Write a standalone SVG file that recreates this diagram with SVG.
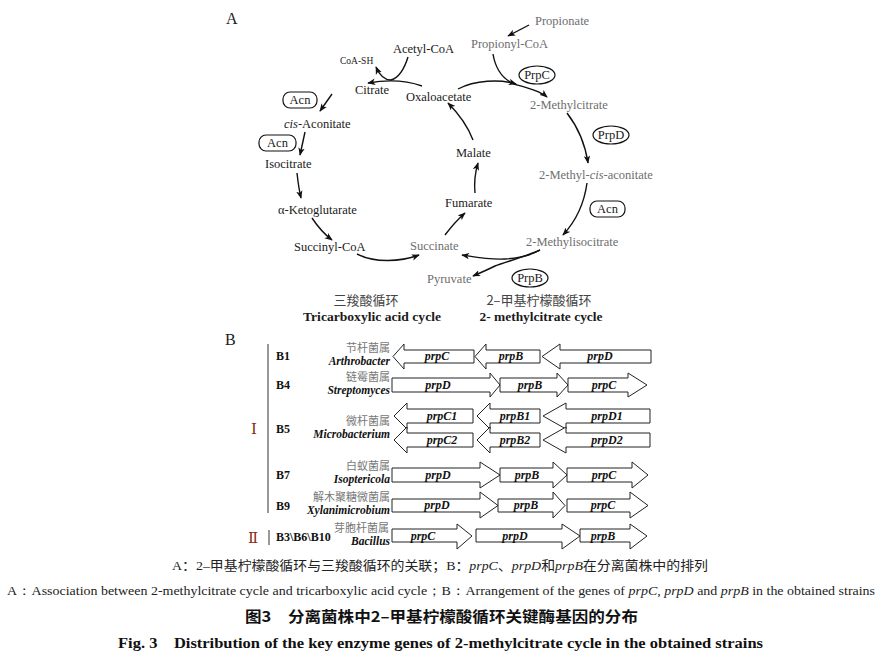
<svg xmlns="http://www.w3.org/2000/svg" width="887" height="655" viewBox="0 0 887 655">
<defs>
<marker id="ah" viewBox="0 0 10 8" refX="9" refY="4" markerWidth="8" markerHeight="7" orient="auto" markerUnits="userSpaceOnUse">
<path d="M0,0 L10,4 L0,8 L2.5,4 z" fill="#111"/>
</marker>
<style>
.t{font-family:"Liberation Serif","Times New Roman",serif;font-size:12.5px;fill:#1a1a1a}
.g{fill:#6e6e6e}
.cj{font-family:"Noto Sans CJK SC","Liberation Serif",sans-serif}
.lab{font-family:"Liberation Serif",serif;font-size:16px;fill:#1a1a1a}
.ln{fill:none;stroke:#111;stroke-width:1.4;marker-end:url(#ah)}
.tag{fill:#fff;stroke:#111;stroke-width:1.2}
.ar{fill:#fff;stroke:#222;stroke-width:1}
.gene{font-family:"Liberation Serif",serif;font-size:12px;font-weight:bold;font-style:italic;fill:#111;text-anchor:middle}
.st{font-family:"Liberation Serif",serif;font-size:12px;font-weight:bold;fill:#111}
.gn{font-family:"Noto Sans CJK SC",sans-serif;font-size:11px;fill:#777;text-anchor:end}
.ge{font-family:"Liberation Serif",serif;font-size:11.5px;font-weight:bold;font-style:italic;fill:#111;text-anchor:end}
.rn{font-family:"DejaVu Serif","Noto Sans CJK SC",serif;font-size:15px;fill:#8b2a1a}
</style>
</defs>
<rect width="887" height="655" fill="#fff"/>

<!-- Panel A -->
<text class="lab" x="226" y="24">A</text>

<g id="connectors">
<path class="ln" d="M529,25 L508,36"/>
<path class="ln" d="M493,54 C496,72 505,80 514,84 C528,88 540,91 547,97"/>
<path class="ln" d="M458,89 C475,80 500,79 516,84"/>
<path class="ln" d="M422,86 C405,80 385,80 368,83"/>
<path class="ln" d="M408,57 C404,70 398,78 391,80 C384,80 379,74 376,67"/>
<path class="ln" d="M332,94 L320,111"/>
<path class="ln" d="M305,132 L300,155"/>
<path class="ln" d="M297,173 C298,182 299,190 301,198"/>
<path class="ln" d="M312,218 C318,227 324,234 332,240"/>
<path class="ln" d="M357,254 C375,263 400,262 419,255"/>
<path class="ln" d="M445,235 C451,227 457,220 465,213"/>
<path class="ln" d="M475,193 C474,183 475,173 478,163"/>
<path class="ln" d="M473,140 C468,127 459,114 448,103"/>
<path class="ln" d="M567,113 C577,126 585,143 588,163"/>
<path class="ln" d="M587,183 C584,205 575,222 563,235"/>
<path class="ln" d="M540,250 C530,256 520,258 505,259 C490,260 475,257 462,255"/>
<path class="ln" d="M540,250 C525,257 505,262 495,266 C487,270 480,273 473,276"/>
</g>

<g id="nodesA">
<g id="n-propionate"><text class="t g" x="535" y="25">Propionate</text></g>
<g id="n-propionylcoa"><text class="t g" x="471" y="48">Propionyl-CoA</text></g>
<g id="n-acetylcoa"><text class="t" x="393" y="53">Acetyl-CoA</text></g>
<g id="n-coash"><text class="t" x="340" y="64" style="font-size:9.5px">CoA-SH</text></g>
<g id="n-citrate"><text class="t" x="355" y="94">Citrate</text></g>
<g id="n-oxaloacetate"><text class="t" x="406" y="101">Oxaloacetate</text></g>
<g id="n-2mc"><text class="t g" x="530" y="109">2-Methylcitrate</text></g>
<g id="n-cisacon"><text class="t" x="284" y="128"><tspan font-style="italic">cis</tspan>-Aconitate</text></g>
<g id="n-isocitrate"><text class="t" x="265" y="168">Isocitrate</text></g>
<g id="n-malate"><text class="t" x="456" y="157">Malate</text></g>
<g id="n-2mca"><text class="t g" x="539" y="179">2-Methyl-<tspan font-style="italic">cis</tspan>-aconitate</text></g>
<g id="n-akg"><text class="t" x="278" y="214">α-Ketoglutarate</text></g>
<g id="n-fumarate"><text class="t" x="445" y="207">Fumarate</text></g>
<g id="n-succoa"><text class="t" x="294" y="251">Succinyl-CoA</text></g>
<g id="n-succinate"><text class="t g" x="410" y="250">Succinate</text></g>
<g id="n-2mic"><text class="t g" x="526" y="246">2-Methylisocitrate</text></g>
<g id="n-pyruvate"><text class="t g" x="427" y="283">Pyruvate</text></g>

<g id="e-acn1"><rect class="tag" x="283" y="92" width="34" height="16" rx="7"/><text class="t" x="300" y="104" text-anchor="middle">Acn</text></g>
<g id="e-acn2"><rect class="tag" x="259" y="135" width="37" height="16" rx="7"/><text class="t" x="277.5" y="147" text-anchor="middle">Acn</text></g>
<g id="e-acn3"><rect class="tag" x="590" y="201" width="35" height="16" rx="7"/><text class="t" x="607.5" y="213" text-anchor="middle">Acn</text></g>
<g id="e-prpc"><ellipse class="tag" cx="537" cy="75" rx="18" ry="9"/><text class="t" x="537" y="79" text-anchor="middle">PrpC</text></g>
<g id="e-prpd"><ellipse class="tag" cx="611" cy="135" rx="18" ry="9"/><text class="t" x="611" y="139" text-anchor="middle">PrpD</text></g>
<g id="e-prpb"><ellipse class="tag" cx="530" cy="278" rx="18" ry="9"/><text class="t" x="530" y="282" text-anchor="middle">PrpB</text></g>

<g id="cycle-labels">
<text class="cj" x="366" y="305" font-size="13" fill="#444" text-anchor="middle">三羧酸循环</text>
<text class="t" x="372" y="321" font-weight="bold" font-size="13" text-anchor="middle" textLength="138" lengthAdjust="spacingAndGlyphs">Tricarboxylic acid cycle</text>
<text class="cj" x="539" y="305" font-size="13" fill="#444" text-anchor="middle">2–甲基柠檬酸循环</text>
<text class="t" x="541" y="321" font-weight="bold" font-size="13" text-anchor="middle" textLength="123" lengthAdjust="spacingAndGlyphs">2- methylcitrate cycle</text>
</g>
</g>

<!-- Panel B -->
<text class="lab" x="225" y="345">B</text>
<g id="groups">
<line x1="268" y1="344" x2="268" y2="513" stroke="#333" stroke-width="1"/>
<line x1="269" y1="530" x2="269" y2="545" stroke="#333" stroke-width="1"/>
<text class="rn" x="251" y="434">Ⅰ</text>
<text class="rn" x="248" y="543">Ⅱ</text>
</g>

<g id="row-b1">
<text class="st" x="276" y="360">B1</text>
<text class="gn" x="390" y="352">节杆菌属</text>
<text class="ge" x="390" y="365">Arthrobacter</text>
<polygon class="ar" points="393,356.5 404,344 404,350 474,350 474,363 404,363 404,369"/>
<polygon class="ar" points="475,356.5 486,344 486,350 540,350 540,363 486,363 486,369"/>
<polygon class="ar" points="542,356.5 560,344 560,350 651,350 651,363 560,363 560,369"/>
<text class="gene" x="437" y="360">prpC</text>
<text class="gene" x="511" y="360">prpB</text>
<text class="gene" x="600" y="360">prpD</text>
</g>

<g id="row-b4">
<text class="st" x="276" y="389">B4</text>
<text class="gn" x="390" y="381">链霉菌属</text>
<text class="ge" x="390" y="394">Streptomyces</text>
<polygon class="ar" points="392,378 490,378 490,373 500,385 490,397 490,392 392,392"/>
<polygon class="ar" points="500,378 557,378 557,373 568,385 557,397 557,392 500,392"/>
<polygon class="ar" points="568,378 628,378 628,373 647,385 628,397 628,392 568,392"/>
<text class="gene" x="438" y="389">prpD</text>
<text class="gene" x="530" y="389">prpB</text>
<text class="gene" x="604" y="389">prpC</text>
</g>

<g id="row-b5">
<text class="st" x="276" y="433">B5</text>
<text class="gn" x="390" y="425">微杆菌属</text>
<text class="ge" x="390" y="438">Microbacterium</text>
<polygon class="ar" points="394,416 407,403 407,409 473,409 473,423 407,423 407,429"/>
<polygon class="ar" points="477,416 490,403 490,409 540,409 540,423 490,423 490,429"/>
<polygon class="ar" points="543,416 566,403 566,409 650,409 650,423 566,423 566,429"/>
<polygon class="ar" points="394,440 407,427 407,433 473,433 473,447 407,447 407,453"/>
<polygon class="ar" points="477,440 490,427 490,433 540,433 540,447 490,447 490,453"/>
<polygon class="ar" points="543,440 566,427 566,433 650,433 650,447 566,447 566,453"/>
<text class="gene" x="442" y="420">prpC1</text>
<text class="gene" x="515" y="420">prpB1</text>
<text class="gene" x="607" y="420">prpD1</text>
<text class="gene" x="442" y="444">prpC2</text>
<text class="gene" x="515" y="444">prpB2</text>
<text class="gene" x="607" y="444">prpD2</text>
</g>

<g id="row-b7">
<text class="st" x="276" y="479">B7</text>
<text class="gn" x="390" y="470">白蚁菌属</text>
<text class="ge" x="390" y="483">Isoptericola</text>
<polygon class="ar" points="392,468 480,468 480,462 500,475 480,488 480,482 392,482"/>
<polygon class="ar" points="500,468 553,468 553,462 567,475 553,488 553,482 500,482"/>
<polygon class="ar" points="567,468 632,468 632,462 648,475 632,488 632,482 567,482"/>
<text class="gene" x="438" y="479">prpD</text>
<text class="gene" x="527" y="479">prpB</text>
<text class="gene" x="604" y="479">prpC</text>
</g>

<g id="row-b9">
<text class="st" x="276" y="510">B9</text>
<text class="gn" x="390" y="501">解木聚糖微菌属</text>
<text class="ge" x="390" y="514">Xylanimicrobium</text>
<polygon class="ar" points="392,499 480,499 480,492 498,505.5 480,518 480,512 392,512"/>
<polygon class="ar" points="498,499 553,499 553,492 565,505.5 553,518 553,512 498,512"/>
<polygon class="ar" points="567,499 630,499 630,492 648,505.5 630,518 630,512 567,512"/>
<text class="gene" x="437" y="509">prpD</text>
<text class="gene" x="526" y="509">prpB</text>
<text class="gene" x="603" y="509">prpC</text>
</g>

<g id="row-b3">
<text class="st" x="276" y="541">B3\B6\B10</text>
<text class="gn" x="389" y="532">芽胞杆菌属</text>
<text class="ge" x="390" y="545">Bacillus</text>
<polygon class="ar" points="392,529 457,529 457,524 472,536 457,549 457,542 392,542"/>
<polygon class="ar" points="476,529 562,529 562,524 580,536 562,549 562,542 476,542"/>
<polygon class="ar" points="580,529 630,529 630,524 647,536 630,549 630,542 580,542"/>
<text class="gene" x="423" y="540">prpC</text>
<text class="gene" x="515" y="540">prpD</text>
<text class="gene" x="603" y="540">prpB</text>
</g>

<!-- Captions -->
<g id="captions">
<text x="172" y="570" font-family="Liberation Serif,Noto Sans CJK SC,serif" font-size="13" fill="#222" textLength="536" lengthAdjust="spacingAndGlyphs">A：2–甲基柠檬酸循环与三羧酸循环的关联；B：<tspan font-style="italic">prpC</tspan>、<tspan font-style="italic">prpD</tspan>和<tspan font-style="italic">prpB</tspan>在分离菌株中的排列</text>
<text x="7" y="595" font-family="Liberation Serif,serif" font-size="12.5" fill="#222" textLength="868" lengthAdjust="spacingAndGlyphs">A：Association between 2-methylcitrate cycle and tricarboxylic acid cycle；B：Arrangement of the genes of <tspan font-style="italic">prpC</tspan>, <tspan font-style="italic">prpD</tspan> and <tspan font-style="italic">prpB</tspan> in the obtained strains</text>
<text x="245" y="622" font-family="Noto Sans CJK SC,sans-serif" font-size="15" font-weight="bold" fill="#111" textLength="393" lengthAdjust="spacingAndGlyphs">图3　分离菌株中2–甲基柠檬酸循环关键酶基因的分布</text>
<text x="118" y="648" font-family="Liberation Serif,serif" font-size="15" font-weight="bold" fill="#111" textLength="645" lengthAdjust="spacingAndGlyphs">Fig. 3　Distribution of the key enzyme genes of 2-methylcitrate cycle in the obtained strains</text>
</g>
</svg>
